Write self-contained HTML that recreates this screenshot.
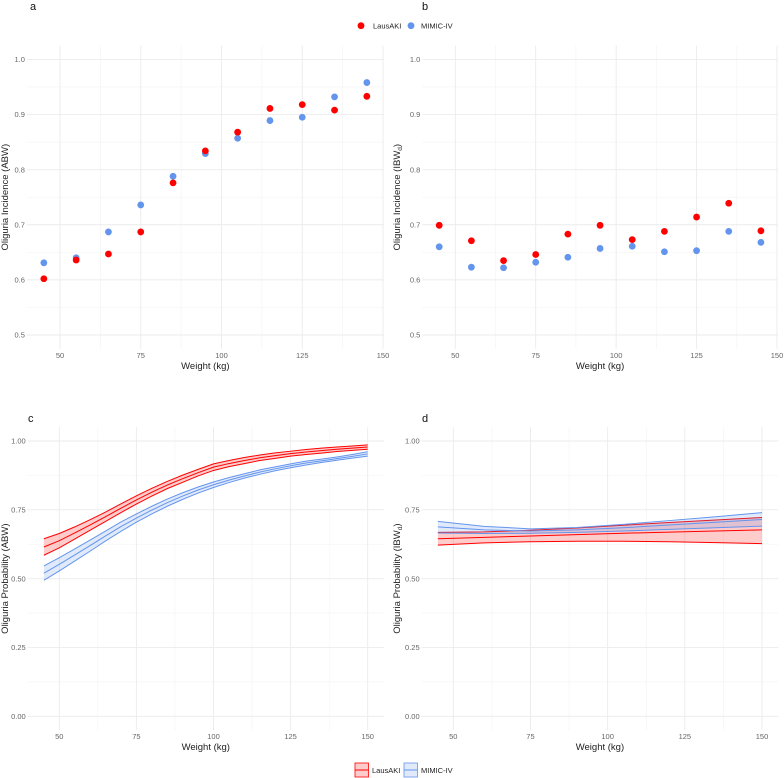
<!DOCTYPE html>
<html><head><meta charset="utf-8"><style>
html,body{margin:0;padding:0;background:#fff}
svg{display:block;font-family:"Liberation Sans",sans-serif}
</style></head><body>
<svg id="fig" width="784" height="778" viewBox="0 0 784 778"></svg>
<script>
const xsPts=[45,55,65,75,85,95,105,115,125,135,145];
const aLaus=[.602,.636,.647,.687,.776,.834,.868,.911,.918,.908,.933];
const aMimic=[.631,.640,.687,.736,.788,.829,.857,.889,.895,.932,.958];
const bLaus=[.699,.671,.635,.646,.683,.699,.673,.688,.714,.739,.689];
const bMimic=[.660,.623,.622,.632,.641,.657,.661,.651,.653,.688,.668];
const xsC=[45,50,55,60,65,70,75,80,85,90,95,100,105,110,115,120,125,130,135,140,145,150];
const cRedFit=[.615,.638,.666,.695,.725,.756,.786,.814,.840,.863,.885,.905,.918,.929,.939,.947,.954,.960,.965,.970,.974,.978];
const cRedLo=[.585,.612,.644,.676,.708,.740,.771,.800,.827,.850,.873,.893,.907,.918,.929,.937,.945,.951,.956,.962,.966,.970];
const cRedHi=[.645,.664,.688,.714,.742,.772,.801,.828,.853,.876,.897,.917,.929,.940,.949,.957,.963,.969,.974,.978,.982,.986];
const cBlueFit=[.520,.552,.586,.620,.655,.689,.720,.749,.776,.800,.822,.841,.858,.873,.887,.899,.910,.920,.928,.936,.944,.953];
const cBlueLo=[.494,.528,.564,.600,.637,.672,.705,.735,.763,.788,.811,.831,.849,.865,.879,.892,.903,.913,.922,.930,.938,.945];
const cBlueHi=[.546,.576,.608,.640,.673,.706,.735,.763,.789,.812,.833,.851,.867,.881,.895,.906,.917,.927,.934,.942,.951,.961];
const xsD=[45,60,75,90,105,120,135,150];
const dRedFit=[.645,.650,.655,.660,.665,.669,.673,.677];
const dRedLo=[.622,.630,.634,.636,.636,.634,.631,.627];
const dRedHi=[.668,.670,.676,.684,.694,.704,.713,.722];
const dBlueFit=[.688,.677,.673,.677,.685,.695,.705,.715];
const dBlueLo=[.666,.664,.665,.668,.673,.679,.685,.691];
const dBlueHi=[.708,.690,.681,.686,.697,.711,.725,.740];
const xTicks=[50,75,100,125,150];
const yTicksTop=[0.5,0.6,0.7,0.8,0.9,1.0];
const yTicksBot=[0,0.25,0.5,0.75,1.0];

const NS="http://www.w3.org/2000/svg";
const svg=document.getElementById('fig');
function mk(tag,attrs,parent,text){const e=document.createElementNS(NS,tag);for(const k in attrs)e.setAttribute(k,attrs[k]);if(text!==undefined)e.textContent=text;(parent||svg).appendChild(e);return e;}
const RED="#ff0000",BLUE="#6495ed";

function panel(o){
  const g=mk('g',{});
  
  
  const X=v=>o.x50+(v-50)*(o.x150-o.x50)/100;
  const Y=v=>o.yA+(v-o.vA)*(o.yB-o.yA)/(o.vB-o.vA);
  const L=X(o.xd[0]),R=X(o.xd[1]),T=Y(o.yd[1]),B=Y(o.yd[0]);
  for(let i=0;i<xTicks.length-1;i++){const v=(xTicks[i]+xTicks[i+1])/2;const l=mk('line',{x1:X(v),x2:X(v),y1:T,y2:B,stroke:'#f3f3f3','stroke-width':0.6},g);}
  for(let i=0;i<o.yt.length-1;i++){const v=(o.yt[i]+o.yt[i+1])/2;const l=mk('line',{x1:L,x2:R,y1:Y(v),y2:Y(v),stroke:'#f3f3f3','stroke-width':0.6},g);}
  xTicks.forEach(v=>{const l=mk('line',{x1:X(v),x2:X(v),y1:T,y2:B,stroke:'#ebebeb','stroke-width':0.9},g);
    const t=mk('text',{x:X(v),y:B+9,'font-size':7.5,fill:'#666','text-anchor':'middle'},g,String(v));});
  o.yt.forEach(v=>{const l=mk('line',{x1:L,x2:R,y1:Y(v),y2:Y(v),stroke:'#ebebeb','stroke-width':0.9},g);
    const t=mk('text',{x:L-2,y:Y(v)+2.7,'font-size':7.5,fill:'#666','text-anchor':'end'},g,o.fmt(v));});
  const xt=mk('text',{x:(L+R)/2,y:B+20,'font-size':9.5,fill:'#222','text-anchor':'middle'},g,'Weight (kg)');
  
  const cy=(T+B)/2, cx=o.ylx;
  const yt=mk('text',{x:cx,y:cy,'font-size':9.5,fill:'#222','text-anchor':'middle',transform:`rotate(-90 ${cx} ${cy})`},g);
  
  mk('tspan',{},yt,o.ytitle);
  if(o.sub){mk('tspan',{'font-size':6.5,dy:2},yt,o.sub);mk('tspan',{dy:-2},yt,')');}
  const tl=mk('text',{x:o.tx,y:o.ty,'font-size':11,fill:'#111'},g,o.id);
  
  return {g,X,Y};
}
function points(p,xs,ys,col,name){ys.forEach((v,i)=>{const c=mk('circle',{cx:p.X(xs[i]),cy:p.Y(v),r:3.4,fill:col},p.g);});}
function ribbon(p,xs,lo,hi,fit,col,name){
  let d='M'+xs.map((x,i)=>p.X(x)+','+p.Y(hi[i])).join('L')+'L'+xs.map((x,i)=>p.X(x)+','+p.Y(lo[i])).reverse().join('L')+'Z';
  const r=mk('path',{d,fill:col,'fill-opacity':0.2,stroke:'none'},p.g);
  [[lo,'-lower'],[fit,'-fit'],[hi,'-upper']].forEach(([arr,s])=>{
    const l=mk('polyline',{points:xs.map((x,i)=>p.X(x)+','+p.Y(arr[i])).join(' '),fill:'none',stroke:col,'stroke-width':1},p.g);
    });
}
const f1=v=>v.toFixed(1),f2=v=>v.toFixed(2);
const pa=panel({id:'a',x50:60,x150:383,yA:59.4,vA:1,yB:335,vB:0.5,xd:[39.75,150.25],yd:[0.475,1.025],yt:yTicksTop,fmt:f1,ytitle:'Oliguria Incidence (ABW)',ylx:8,tx:30,ty:10});
points(pa,xsPts,aMimic,BLUE,'mimic-point');points(pa,xsPts,aLaus,RED,'lausaki-point');
const pb=panel({id:'b',x50:455.3,x150:777,yA:59.4,vA:1,yB:335,vB:0.5,xd:[39.75,150.25],yd:[0.475,1.025],yt:yTicksTop,fmt:f1,ytitle:'Oliguria Incidence (IBW',sub:'d',ylx:400,tx:422,ty:10});
points(pb,xsPts,bMimic,BLUE,'mimic-point');points(pb,xsPts,bLaus,RED,'lausaki-point');
const pc=panel({id:'c',x50:59.3,x150:367.7,yA:441,vA:1,yB:716.3,vB:0,xd:[39.75,155.25],yd:[-0.05,1.05],yt:yTicksBot,fmt:f2,ytitle:'Oliguria Probability (ABW)',ylx:8,tx:28,ty:422});
ribbon(pc,xsC,cRedLo,cRedHi,cRedFit,RED,'lausaki');ribbon(pc,xsC,cBlueLo,cBlueHi,cBlueFit,BLUE,'mimic');
const pd=panel({id:'d',x50:453.3,x150:762,yA:441,vA:1,yB:716.3,vB:0,xd:[39.75,155.25],yd:[-0.05,1.05],yt:yTicksBot,fmt:f2,ytitle:'Oliguria Probability (IBW',sub:'d',ylx:400,tx:422,ty:422});
ribbon(pd,xsD,dRedLo,dRedHi,dRedFit,RED,'lausaki');ribbon(pd,xsD,dBlueLo,dBlueHi,dBlueFit,BLUE,'mimic');

const lg=mk('g',{});
[[361,373,RED,'LausAKI'],[411,421,BLUE,'MIMIC-IV']].forEach(([cx,tx,c,t])=>{
  const e=mk('g',{},lg);
  mk('circle',{cx,cy:25.7,r:3.4,fill:c},e);mk('text',{x:tx,y:28.5,'font-size':7.5,fill:'#222'},e,t);});
const lb=mk('g',{});
[[355,372,RED,'LausAKI'],[404,421,BLUE,'MIMIC-IV']].forEach(([bx,tx,c,t])=>{
  const e=mk('g',{},lb);
  mk('rect',{x:bx,y:763,width:13.5,height:14,fill:c,'fill-opacity':0.2,stroke:c,'stroke-width':0.8},e);
  mk('line',{x1:bx,x2:bx+13.5,y1:770,y2:770,stroke:c,'stroke-width':1},e);
  mk('text',{x:tx,y:773,'font-size':7.5,fill:'#222'},e,t);});
</script>
</body></html>
